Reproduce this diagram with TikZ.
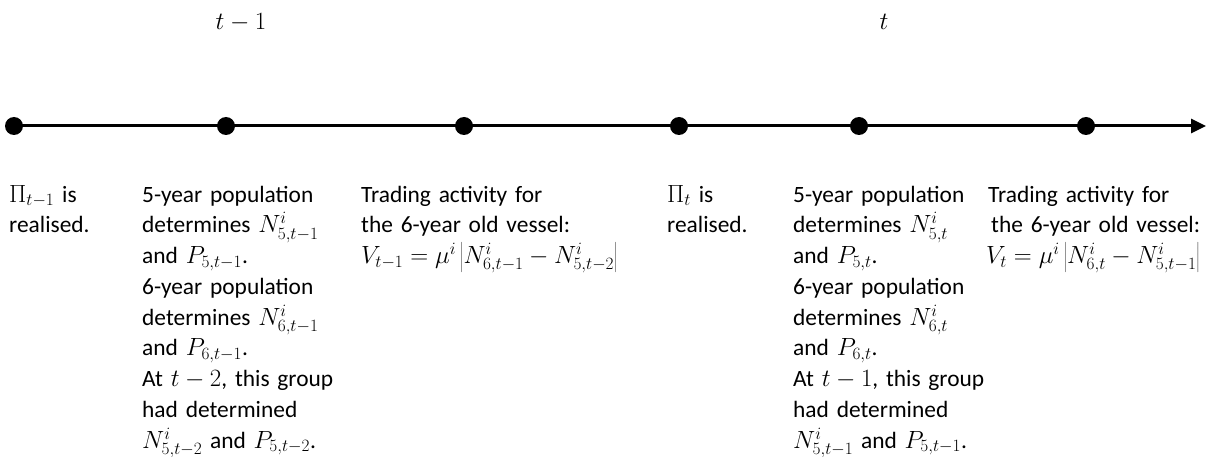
\documentclass[tikz,border=0pt]{standalone}
\usepackage{fontspec}
\setmainfont{Carlito}
\usetikzlibrary{arrows.meta}
\lineskiplimit=-100pt
\lineskip=0pt
\begin{document}
\begin{tikzpicture}[x=1pt,y=1pt,
  dot/.style={circle,fill=black,inner sep=0pt,minimum size=18pt},
  timeline/.style={line width=3pt,-{Triangle[length=15pt,width=14pt]}},
  coltext/.style={anchor=north west,inner sep=0pt,text width=330pt,align=left,
    font={\fontsize{23.4}{30.75}\selectfont}},
  toplabel/.style={anchor=base,inner sep=0pt,font={\fontsize{25}{30}\selectfont}}]
\useasboundingbox (0,0) rectangle (1212,-457);
% time labels
\node[toplabel] (tm1) at (241,-30) {$t-1$};
\node[toplabel] (tt) at (884,-30) {$t$};
% timeline
\coordinate (tip) at (1206,-126);
\node[dot] (d1) at (14,-126) {};
\node[dot] (d2) at (226,-126) {};
\node[dot] (d3) at (464,-126) {};
\node[dot] (d4) at (679,-126) {};
\node[dot] (d5) at (859,-126) {};
\node[dot] (d6) at (1086,-126) {};
\draw[timeline] (d1.center) -- (tip);
% column texts
\node[coltext] (c1) at (9,-180.5) {\strut$\Pi_{t-1}$ is\\ realised.};
\node[coltext] (c2) at (142,-180.5) {\strut 5-year population\\ determines $N^i_{5,t-1}$\\ and $P_{5,t-1}$.\\ 6-year population\\ determines $N^i_{6,t-1}$\\ and $P_{6,t-1}$.\\ At $t-2$, this group\\ had determined\\ $N^i_{5,t-2}$ and $P_{5,t-2}$.};
\node[coltext] (c3) at (361,-180.5) {\strut Trading activity for\\ the 6-year old vessel:\\ $V_{t-1}=\mu^i\left|N^i_{6,t-1}-N^i_{5,t-2}\right|$};
\node[coltext] (c4) at (667,-180.5) {\strut$\Pi_{t}$ is\\ realised.};
\node[coltext] (c5) at (793,-180.5) {\strut 5-year population\\ determines $N^i_{5,t}$\\ and $P_{5,t}$.\\ 6-year population\\ determines $N^i_{6,t}$\\ and $P_{6,t}$.\\ At $t-1$, this group\\ had determined\\ $N^i_{5,t-1}$ and $P_{5,t-1}$.};
\node[coltext] (c6) at (986,-180.5) {\strut\hspace{2pt}Trading activity for\\ \hspace{5pt}the 6-year old vessel:\\ $V_{t}=\mu^i\left|N^i_{6,t}-N^i_{5,t-1}\right|$};
\end{tikzpicture}
\end{document}
